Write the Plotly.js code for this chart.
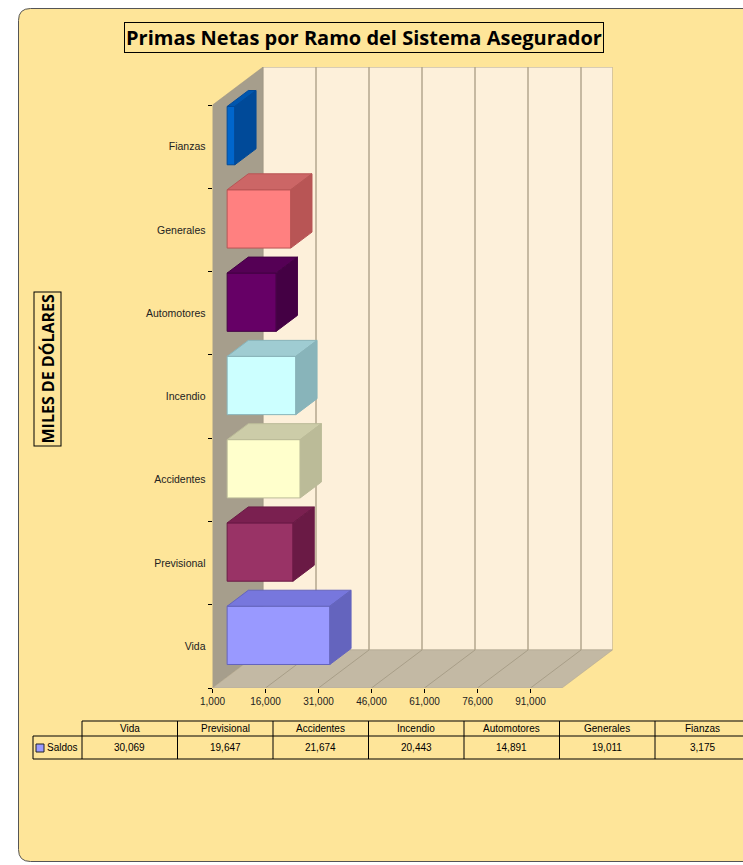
<!DOCTYPE html>
<html>
<head>
<meta charset="utf-8">
<script src="https://cdn.plot.ly/plotly-3.0.1.min.js"></script>
<style>
html,body{margin:0;padding:0;background:#ffffff;}
#chart{width:743px;height:865px;}
</style>
</head>
<body>
<div id="chart"></div>
<script>
// ---------------- DATA ----------------
const categories = ['Vida','Previsional','Accidentes','Incendio','Automotores','Generales','Fianzas'];
const saldos = [30069, 19647, 21674, 20443, 14891, 19011, 3175];
const seriesName = 'Saldos';
const xTickVals = [1000, 16000, 31000, 46000, 61000, 76000, 91000];

// ---------------- STYLE ----------------
const frontColors = ['#9999FF','#993366','#FFFFCC','#CCFFFF','#660066','#FF8080','#0066CC'];
const topColors   = ['#7777DD','#7A2050','#CCCCA8','#9FCCD2','#550055','#CC6666','#0056AE'];
const sideColors  = ['#6464BE','#6A1A45','#BBBB98','#88B4BA','#440044','#B85555','#004A99'];

const W = 743, H = 865;
const X0 = 212.5;                 // pixel of x = 1000 on the front plane
const PX_PER = 53 / 15000;        // pixels per data unit
const FRONT_BOTTOM = 688, FRONT_TOP = 105;
const CAT_PX = (FRONT_BOTTOM - FRONT_TOP) / categories.length;
const DEPTH_DX = 50.5, DEPTH_DY = 38;
const BACK_RIGHT = 612.5, BACK_TOP = 67;
const XMIN = 1000, YMIN = -0.5, YTOP = categories.length - 0.5;
const XMAX_C = XMIN + (BACK_RIGHT - X0) / PX_PER;
const YMAX_C = YMIN + (FRONT_BOTTOM - BACK_TOP) / CAT_PX;
const DX = DEPTH_DX / PX_PER, DY = DEPTH_DY / CAT_PX;
const XMAX_F = XMIN + (BACK_RIGHT - DEPTH_DX - X0) / PX_PER;
const FA = 0.29, FB = 0.71, BARW = 0.70;

const px = x => x / W, py = y => 1 - y / H;

// ---------------- TRACES ----------------
const idx = categories.map((c, i) => i);
const traces = [];
traces.push({
  type: 'bar', orientation: 'h',
  y: idx, x: saldos.map(v => v - XMIN), base: XMIN + FA * DX,
  width: BARW, offset: -BARW / 2 + FA * DY,
  marker: {color: frontColors, line: {color: sideColors, width: 1}},
  name: seriesName, hoverinfo: 'skip', showlegend: false
});
saldos.forEach((v, i) => {
  const x0 = XMIN + FA * DX, x1 = v + FA * DX;
  const yT = i + BARW / 2 + FA * DY, yB = i - BARW / 2 + FA * DY;
  const dx = (FB - FA) * DX, dy = (FB - FA) * DY;
  traces.push({
    type: 'scatter', mode: 'lines', fill: 'toself',
    x: [x0, x1, x1 + dx, x0 + dx, x0], y: [yT, yT, yT + dy, yT + dy, yT],
    fillcolor: topColors[i], line: {color: sideColors[i], width: 1},
    hoverinfo: 'skip', showlegend: false
  });
  traces.push({
    type: 'scatter', mode: 'lines', fill: 'toself',
    x: [x1, x1 + dx, x1 + dx, x1, x1], y: [yB, yB + dy, yT + dy, yT, yB],
    fillcolor: sideColors[i], line: {color: sideColors[i], width: 1},
    hoverinfo: 'skip', showlegend: false
  });
});

// ---------------- SHAPES ----------------
const shapes = [];
// rounded chart area
(function () {
  const x0 = 18.5, y0 = 8.5, x1 = 780, y1 = 861.5, r = 12;
  const p = `M${px(x0 + r)},${py(y0)} L${px(x1)},${py(y0)} L${px(x1)},${py(y1)} L${px(x0 + r)},${py(y1)} ` +
            `Q${px(x0)},${py(y1)} ${px(x0)},${py(y1 - r)} L${px(x0)},${py(y0 + r)} Q${px(x0)},${py(y0)} ${px(x0 + r)},${py(y0)} Z`;
  shapes.push({type: 'path', xref: 'paper', yref: 'paper', path: p, fillcolor: '#FEE599',
               line: {color: '#555555', width: 1}, layer: 'below'});
})();
function poly(pts, fill, lineColor, lw) {
  const p = pts.map((q, k) => (k ? 'L' : 'M') + q[0] + ',' + q[1]).join(' ') + ' Z';
  shapes.push({type: 'path', xref: 'x', yref: 'y', path: p, fillcolor: fill,
               line: {color: lineColor, width: lw}, layer: 'below'});
}
// back wall
poly([[XMIN + DX, YMIN + DY], [XMAX_F + DX, YMIN + DY], [XMAX_F + DX, YTOP + DY], [XMIN + DX, YTOP + DY]],
     '#FDF0DA', '#B3A890', 1);
// left wall
poly([[XMIN, YMIN], [XMIN + DX, YMIN + DY], [XMIN + DX, YTOP + DY], [XMIN, YTOP]],
     '#A69E8C', '#9A9282', 0.5);
// floor
poly([[XMIN, YMIN], [XMAX_F, YMIN], [XMAX_F + DX, YMIN + DY], [XMIN + DX, YMIN + DY]],
     '#C3B9A4', '#AFA590', 0.5);
// gridlines on back wall and floor
xTickVals.slice(1).forEach(v => {
  shapes.push({type: 'line', xref: 'x', yref: 'y', x0: v + DX, x1: v + DX, y0: YMIN + DY, y1: YTOP + DY,
               line: {color: '#B3A78E', width: 1.5}, layer: 'below'});
  shapes.push({type: 'line', xref: 'x', yref: 'y', x0: v, x1: v + DX, y0: YMIN, y1: YMIN + DY,
               line: {color: '#A89E88', width: 1}, layer: 'below'});
});

// ---------------- DATA TABLE ----------------
const annotations = [];
const colEdges = categories.map((c, i) => 82 + i * 95.5).concat([82 + categories.length * 95.5]);
const rT = 721, rM = 736, rB = 759, legL = 33;
function pline(x0, y0, x1, y1) {
  shapes.push({type: 'line', xref: 'paper', yref: 'paper', x0: px(x0), x1: px(x1), y0: py(y0), y1: py(y1),
               line: {color: '#000000', width: 1}});
}
pline(colEdges[0], rT, colEdges[colEdges.length - 1], rT);
pline(legL, rM, colEdges[colEdges.length - 1], rM);
pline(legL, rB, colEdges[colEdges.length - 1], rB);
pline(legL, rM, legL, rB);
colEdges.forEach(x => pline(x, rT, x, rB));
shapes.push({type: 'rect', xref: 'paper', yref: 'paper', x0: px(36), x1: px(44), y0: py(752), y1: py(744),
             fillcolor: frontColors[0], line: {color: '#222222', width: 1}});
const tFont = {family: 'Liberation Sans, Arial', size: 10, color: '#000'};
categories.forEach((c, i) => {
  const xc = (colEdges[i] + colEdges[i + 1]) / 2;
  annotations.push({xref: 'paper', yref: 'paper', x: px(xc), y: py((rT + rM) / 2), text: c,
                    showarrow: false, font: tFont, xanchor: 'center', yanchor: 'middle'});
  annotations.push({xref: 'paper', yref: 'paper', x: px(xc), y: py((rM + rB) / 2),
                    text: saldos[i].toLocaleString('en-US'),
                    showarrow: false, font: tFont, xanchor: 'center', yanchor: 'middle'});
});
annotations.push({xref: 'paper', yref: 'paper', x: px(45), y: py((rM + rB) / 2), text: seriesName,
                  showarrow: false, font: tFont, xanchor: 'left', yanchor: 'middle'});

// titles
annotations.push({xref: 'paper', yref: 'paper', x: px(363.5), y: py(37), text: '<b>Primas Netas por Ramo del Sistema Asegurador</b>',
                  showarrow: false, xanchor: 'center', yanchor: 'middle',
                  font: {family: 'Open Sans, Noto Sans, Arial', size: 20, color: '#000'},
                  bordercolor: '#000', borderwidth: 1, borderpad: 1});
annotations.push({xref: 'paper', yref: 'paper', x: px(47.5), y: py(369), text: '<b>MILES DE DÓLARES</b>',
                  showarrow: false, xanchor: 'center', yanchor: 'middle', textangle: -90,
                  font: {family: 'Open Sans, Noto Sans, Arial', size: 16, color: '#000'},
                  bordercolor: '#000', borderwidth: 1, borderpad: 2});

// ---------------- LAYOUT ----------------
const layout = {
  width: W, height: H,
  margin: {l: 0, r: 0, t: 0, b: 0},
  paper_bgcolor: '#ffffff', plot_bgcolor: 'rgba(0,0,0,0)',
  showlegend: false,
  xaxis: {
    domain: [px(X0), px(BACK_RIGHT)], range: [XMIN, XMAX_C],
    showgrid: false, zeroline: false, showline: false,
    tickmode: 'array', tickvals: xTickVals, tickformat: ',',
    ticks: 'outside', ticklen: 4, tickcolor: '#000', tickwidth: 1,
    tickfont: {family: 'Liberation Sans, Arial', size: 10, color: '#222'},
    fixedrange: true
  },
  yaxis: {
    domain: [py(FRONT_BOTTOM), py(BACK_TOP)], range: [YMIN, YMAX_C],
    showgrid: false, zeroline: false, showline: false,
    tickmode: 'array', tickvals: idx, ticktext: categories,
    ticks: '', ticklabelstandoff: 6,
    minor: {ticks: 'outside', ticklen: 4, tickcolor: '#000', tickwidth: 1, tick0: 0.5, dtick: 1, showgrid: false},
    tickfont: {family: 'Liberation Sans, Arial', size: 10.5, color: '#222'},
    fixedrange: true
  },
  shapes: shapes,
  annotations: annotations
};

Plotly.newPlot('chart', traces, layout, {staticPlot: true, displayModeBar: false});
</script>
</body>
</html>
